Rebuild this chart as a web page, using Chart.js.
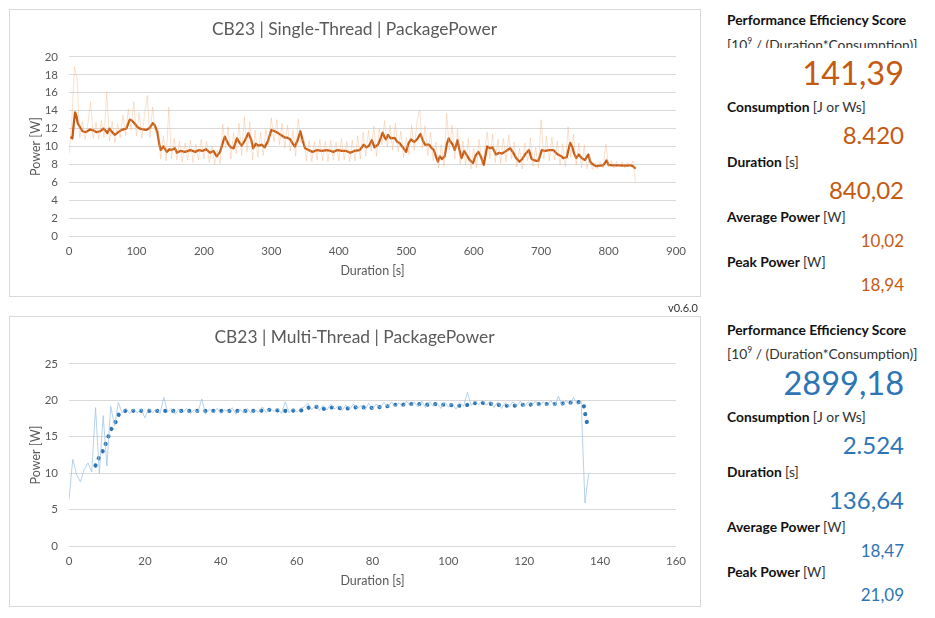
<!DOCTYPE html>
<html>
<head>
<meta charset="utf-8">
<script src="https://cdn.jsdelivr.net/npm/chart.js@4.4.1/dist/chart.umd.min.js"></script>
<style>
  body { margin: 0; background: #fff; font-family: Lato, "Noto Sans", sans-serif; }
  .box { position: absolute; border: 1px solid #d9d9d9; box-sizing: border-box; pointer-events: none; }
  canvas { position: absolute; }
  .t { position: absolute; white-space: nowrap; }
  .lbl { left: 727px; font-size: 13.8px; line-height: 14px; font-weight: bold; color: #111; }
  .lbl span { font-weight: normal; color: #333; }
  .val { right: 31px; text-align: right; }
  .ver { position: absolute; right: 237px; top: 301px; font-size: 11px; color: #333; }
</style>
</head>
<body>
<canvas id="stChart" width="691" height="287" style="left:9px;top:9px"></canvas>
<div class="box" style="left:9px;top:9px;width:692px;height:288px"></div>
<canvas id="mtChart" width="691" height="290" style="left:9px;top:316px"></canvas>
<div class="box" style="left:9px;top:316px;width:692px;height:291px"></div>
<div class="ver">v0.6.0</div>
<div id="panel"></div>

<script>
// ---- Single-Thread run (CB23) ----
// moving average: time [s] / power [W]
const stAvgTime = [
  3, 5, 7, 9, 11, 13, 16, 20, 25, 31, 36, 41, 46, 51, 55, 57, 60, 64, 68, 73,
  78, 85, 90, 93, 97, 101, 105, 110, 115, 120, 124, 127, 131, 134, 136, 140, 145, 149, 152, 157,
  160, 165, 172, 180, 187, 193, 198, 203, 209, 214, 219, 224, 228, 231, 236, 240, 244, 249, 253, 256,
  261, 266, 270, 273, 277, 281, 286, 290, 295, 300, 305, 310, 316, 320, 323, 328, 332, 335, 339, 343,
  346, 350, 355, 361, 368, 375, 382, 388, 392, 398, 405, 411, 417, 423, 431, 437, 441, 445, 449, 453,
  458, 462, 465, 468, 470, 473, 477, 483, 487, 490, 494, 500, 503, 507, 512, 517, 521, 525, 528, 534,
  538, 541, 544, 547, 550, 553, 557, 560, 563, 566, 569, 572, 576, 579, 582, 586, 590, 594, 599, 603,
  607, 610, 615, 620, 624, 628, 633, 638, 642, 646, 650, 654, 658, 663, 668, 672, 676, 682, 686, 688,
  693, 696, 701, 706, 712, 718, 722, 725, 730, 733, 738, 743, 746, 749, 752, 756, 760, 765, 770, 773,
  775, 779, 782, 787, 792, 795, 797, 800, 806, 815, 825, 832, 836, 839
];
const stAvgPower = [
  11.0, 10.9, 12.5, 13.8, 13.4, 12.6, 12.2, 11.7, 11.6, 11.9, 11.8, 11.6, 11.7, 12.0, 11.7, 11.5, 12.0, 11.6, 11.3, 11.6,
  11.85, 12.0, 13.0, 12.9, 12.6, 12.2, 12.0, 11.9, 11.85, 12.1, 12.6, 12.4, 11.6, 10.2, 9.6, 10.0, 9.4, 9.7, 9.6, 9.8,
  9.3, 9.5, 9.4, 9.6, 9.4, 9.6, 9.5, 9.7, 9.3, 9.5, 8.9, 9.4, 10.4, 11.1, 10.3, 9.9, 9.8, 10.9, 10.4, 10.1,
  10.7, 11.5, 10.8, 9.8, 10.3, 10.1, 10.2, 9.9, 10.6, 11.85, 11.7, 11.5, 11.2, 11.0, 11.0, 10.8, 10.3, 10.0, 10.7, 11.7,
  10.8, 9.8, 9.6, 9.4, 9.6, 9.5, 9.6, 9.5, 9.4, 9.6, 9.5, 9.5, 9.3, 9.5, 9.6, 10.2, 9.9, 10.1, 10.7, 9.9,
  10.2, 10.9, 11.55, 11.0, 10.8, 11.3, 10.9, 10.95, 10.5, 10.4, 10.0, 9.4, 10.3, 10.8, 10.5, 10.9, 11.4, 10.6, 10.2, 10.2,
  9.8, 9.6, 8.9, 8.3, 8.9, 8.6, 8.9, 10.2, 10.9, 10.5, 10.2, 9.6, 10.7, 9.6, 8.7, 9.5, 9.0, 8.5, 8.15, 9.0,
  9.4, 9.0, 7.96, 10.0, 9.8, 9.9, 9.1, 9.3, 9.2, 9.4, 9.6, 9.8, 9.4, 8.7, 8.3, 8.6, 9.1, 9.6, 8.6, 8.5,
  8.4, 8.4, 9.6, 9.5, 9.6, 9.6, 9.3, 9.1, 8.9, 8.7, 8.8, 10.4, 10.0, 9.2, 8.7, 9.1, 8.7, 8.5, 9.1, 8.3,
  8.1, 7.9, 7.8, 7.85, 7.9, 8.2, 8.45, 7.95, 7.9, 7.9, 7.85, 7.9, 7.8, 7.6
];
// raw samples, one every 4 s from 0 s
const stRawStep = 4;
const stRawPower = [
  9.2, 12.5, 18.9, 17.6, 11.0, 12.8, 10.8, 12.6, 15.0, 10.9,
  12.7, 10.8, 12.9, 11.0, 16.1, 10.6, 12.8, 10.4, 12.5, 11.0,
  13.5, 11.2, 14.2, 11.8, 15.0, 11.2, 13.8, 10.9, 13.6, 15.7,
  11.0, 14.4, 11.5, 12.0, 8.6, 11.2, 8.4, 14.4, 8.6, 10.9,
  8.5, 10.6, 8.3, 10.4, 8.5, 10.7, 8.2, 10.3, 8.5, 10.8,
  8.6, 10.6, 8.2, 10.1, 8.0, 9.6, 8.1, 12.5, 9.8, 12.2,
  8.6, 11.5, 9.2, 12.6, 9.0, 13.3, 9.4, 12.8, 8.5, 11.8,
  8.8, 11.6, 9.0, 11.9, 10.2, 13.2, 10.5, 13.0, 10.2, 12.6,
  9.8, 12.4, 9.5, 11.8, 8.9, 13.1, 10.4, 11.0, 8.4, 10.7,
  8.3, 10.5, 8.5, 10.8, 8.4, 10.6, 8.3, 10.7, 8.5, 10.5,
  8.4, 10.9, 8.5, 10.6, 8.3, 10.7, 8.4, 11.2, 8.6, 11.6,
  8.9, 11.8, 9.5, 12.3, 8.9, 12.0, 10.2, 12.9, 9.9, 12.4,
  9.6, 12.6, 9.4, 11.7, 8.8, 11.0, 9.1, 12.4, 9.6, 12.8,
  14.1, 9.8, 12.3, 9.0, 11.6, 8.4, 10.5, 7.6, 10.2, 7.8,
  13.7, 9.6, 12.4, 8.6, 12.0, 8.0, 10.6, 7.9, 10.9, 7.5,
  9.8, 7.6, 10.8, 8.0, 9.4, 11.6, 8.6, 11.4, 8.2, 10.8,
  8.1, 10.9, 8.3, 11.3, 8.6, 10.5, 7.7, 9.8, 7.5, 10.4,
  8.4, 11.0, 7.8, 9.9, 7.6, 13.0, 8.6, 11.2, 8.4, 11.0,
  8.5, 10.6, 7.9, 10.3, 7.7, 12.2, 8.8, 11.4, 7.9, 10.4,
  7.6, 10.2, 7.5, 9.0, 7.4, 8.2, 7.5, 8.3, 7.6, 10.3,
  7.7, 8.4, 7.6, 8.3, 7.7, 8.3, 7.6, 8.2, 7.7, 8.4,
  6.0
];

// ---- Multi-Thread run (CB23) ----
const mtAvgTime = [
  7.0, 7.6, 8.6, 9.2, 9.9, 10.5, 11.1, 11.9, 12.7, 13.2, 14.9, 20, 30, 40, 48.6, 50.7, 52.1, 54.1, 56, 58.1,
  59.6, 61, 62.2, 63.5, 65.6, 66.8, 68.6, 70, 71, 72.8, 74.7, 76.5, 78.5, 80.4, 82.2, 84.1, 85.9, 87.9, 89.8, 91.2,
  92.7, 94.5, 96.4, 97.8, 99.3, 101, 102.9, 104.8, 106.4, 108.3, 109.9, 111.6, 113.1, 114.9, 117.1, 119.1, 121.2, 123.1, 125.2, 127.2,
  129.4, 131.1, 133.3, 135.1, 135.9, 136.1, 136.5, 136.8
];
const mtAvgPower = [
  11.06, 11.9, 12.6, 13.5, 14.3, 15.2, 16.0, 16.7, 17.4, 18.2, 18.57, 18.55, 18.55, 18.55, 18.55, 18.6, 18.7, 18.7, 18.55, 18.55,
  18.6, 18.6, 18.7, 19.1, 19.1, 18.8, 19.0, 19.05, 18.95, 18.85, 19.0, 19.1, 19.0, 18.95, 19.1, 19.2, 19.4, 19.4, 19.5, 19.5,
  19.5, 19.4, 19.5, 19.4, 19.4, 19.35, 19.26, 19.35, 19.6, 19.68, 19.6, 19.5, 19.4, 19.26, 19.26, 19.4, 19.4, 19.5, 19.5, 19.5,
  19.5, 19.68, 19.7, 19.8, 19.0, 18.0, 17.0, 15.95
];
// raw samples, one per second from 0 s
const mtRawStep = 1;
const mtRawPower = [
  6.4, 11.9, 9.8, 8.8, 10.5, 11.4, 10.2, 19.0, 10.0, 17.9,
  11.0, 19.2, 16.5, 19.7, 18.3, 18.9, 18.2, 18.8, 18.3, 18.9,
  17.6, 18.9, 18.3, 18.8, 18.2, 20.4, 18.4, 18.9, 18.1, 18.8,
  18.3, 18.9, 18.2, 18.7, 18.4, 20.2, 18.1, 18.8, 18.3, 18.9,
  18.2, 18.7, 18.4, 19.0, 18.1, 18.8, 18.3, 18.9, 18.2, 18.7,
  18.4, 19.1, 18.3, 18.9, 18.5, 18.9, 18.2, 19.8, 18.3, 18.9,
  18.4, 18.9, 19.1, 19.6, 18.7, 19.4, 18.6, 19.3, 18.7, 19.5,
  18.8, 19.3, 18.6, 19.4, 18.8, 19.5, 18.9, 19.3, 18.7, 19.6,
  18.8, 19.5, 19.0, 19.7, 19.1, 19.8, 19.2, 19.7, 19.1, 19.9,
  19.2, 19.8, 19.1, 19.9, 19.0, 19.8, 19.2, 19.7, 18.9, 19.8,
  19.1, 19.6, 18.8, 19.7, 19.2, 21.1, 19.3, 19.9, 19.4, 20.0,
  19.3, 19.9, 19.0, 19.8, 18.9, 19.7, 19.1, 19.8, 19.2, 19.9,
  19.1, 19.8, 19.3, 19.9, 19.2, 19.8, 19.3, 20.0, 19.2, 20.6,
  19.3, 20.0, 19.4, 20.4, 19.5, 19.9, 5.9, 10.0
];

// ---- summary numbers shown at the right ----
const stSummary = ['141,39', '8.420', '840,02', '10,02', '18,94'];
const mtSummary = ['2899,18', '2.524', '136,64', '18,47', '21,09'];

const ORANGE = '#c55a11';
const BLUE = '#2e75b6';
const FONT = 'Lato';

function toPoints(xs, ys) {
  return ys.map((v, i) => ({ x: xs[i], y: v }));
}
function rawPoints(step, ys) {
  return ys.map((v, i) => ({ x: i * step, y: v }));
}

function makeChart(id, cfg) {
  return new Chart(document.getElementById(id), {
    type: 'line',
    data: {
      datasets: [
        {
          data: cfg.raw,
          borderColor: cfg.rawColor,
          borderWidth: 1,
          pointRadius: 0,
          tension: 0
        },
        {
          data: cfg.avg,
          borderColor: cfg.avgColor,
          borderWidth: cfg.avgWidth,
          borderDash: cfg.avgDash,
          borderCapStyle: 'round',
          borderJoinStyle: 'round',
          pointRadius: 0,
          tension: 0
        }
      ]
    },
    options: {
      responsive: false,
      animation: false,
      events: [],
      plugins: {
        legend: { display: false },
        tooltip: { enabled: false },
        title: {
          display: true,
          text: cfg.title,
          color: '#595959',
          font: { family: FONT, size: 17.4, weight: 'normal', lineHeight: 1.2 },
          padding: { top: cfg.titleTop, bottom: 48 - cfg.titleTop - 20.9 }
        }
      },
      scales: {
        x: {
          type: 'linear',
          min: 0,
          max: cfg.xMax,
          ticks: { stepSize: cfg.xStep, color: '#595959', padding: 8, font: { family: FONT, size: 11.5 } },
          grid: { display: false, drawTicks: false },
          border: { display: false },
          title: { display: true, text: 'Duration [s]', color: '#595959', padding: { top: 0, bottom: 18 }, font: { family: FONT, size: 12.5 } },
          afterFit: s => { s.height = 60; }
        },
        y: {
          min: 0,
          max: cfg.yMax,
          ticks: { stepSize: cfg.yStep, color: '#595959', padding: 11, font: { family: FONT, size: 11.5 } },
          grid: { color: '#d9d9d9', drawTicks: false },
          border: { display: false },
          title: { display: true, text: 'Power [W]', color: '#595959', padding: { top: 19, bottom: 0 }, font: { family: FONT, size: 12.5 } },
          afterFit: s => { s.width = 60; }
        },
        // empty right-hand spacer so the plot ends where the reference does
        // while the title stays centred on the whole box
        spacer: {
          position: 'right',
          min: 0,
          max: 1,
          ticks: { display: false },
          grid: { display: false, drawTicks: false },
          border: { display: false },
          afterFit: s => { s.width = 24; }
        }
      }
    }
  });
}

makeChart('stChart', {
  title: 'CB23 | Single-Thread | PackagePower',
  titleTop: 10,
  raw: rawPoints(stRawStep, stRawPower),
  avg: toPoints(stAvgTime, stAvgPower),
  rawColor: 'rgba(244, 177, 131, 0.4)',
  avgColor: ORANGE,
  avgWidth: 2.25,
  avgDash: [],
  xMax: 900, xStep: 100, yMax: 20, yStep: 2
});

makeChart('mtChart', {
  title: 'CB23 | Multi-Thread | PackagePower',
  titleTop: 11,
  raw: rawPoints(mtRawStep, mtRawPower),
  avg: toPoints(mtAvgTime, mtAvgPower),
  rawColor: 'rgba(157, 195, 230, 0.75)',
  avgColor: BLUE,
  avgWidth: 4.2,
  avgDash: [0.01, 8],
  xMax: 160, xStep: 20, yMax: 25, yStep: 5
});

// right-hand summary panels
function addText(cls, html, top, style) {
  const d = document.createElement('div');
  d.className = 't ' + cls;
  d.innerHTML = html;
  d.style.top = top + 'px';
  Object.assign(d.style, style || {});
  document.getElementById('panel').appendChild(d);
}
function panel(y0, vals, color, clipFormula) {
  const sizes = [32.5, 24, 24, 17, 17];
  const valCenters = [74, 136, 191, 241, 285];
  const labels = [
    'Consumption <span>[J or Ws]</span>',
    'Duration <span>[s]</span>',
    'Average Power <span>[W]</span>',
    'Peak Power <span>[W]</span>'
  ];
  const labelCenters = [107, 162, 217, 262];
  addText('lbl', 'Performance Efficiency Score', y0 + 20 - 7);
  addText('lbl', '<span>[10<sup style="font-size:8.5px;line-height:0">9</sup> / (Duration*Consumption)]</span>', y0 + 44 - 7,
    clipFormula ? { height: '11px', overflow: 'hidden', lineHeight: '15px' } : {});
  labels.forEach((l, i) => addText('lbl', l, y0 + labelCenters[i] - 7));
  vals.forEach((v, i) => addText('val', v, y0 + valCenters[i] - sizes[i] * 0.53,
    { fontSize: sizes[i] + 'px', lineHeight: sizes[i] + 'px', color: color }));
}
panel(0, stSummary, ORANGE, true);
panel(310, mtSummary, BLUE, false);
</script>
</body>
</html>
